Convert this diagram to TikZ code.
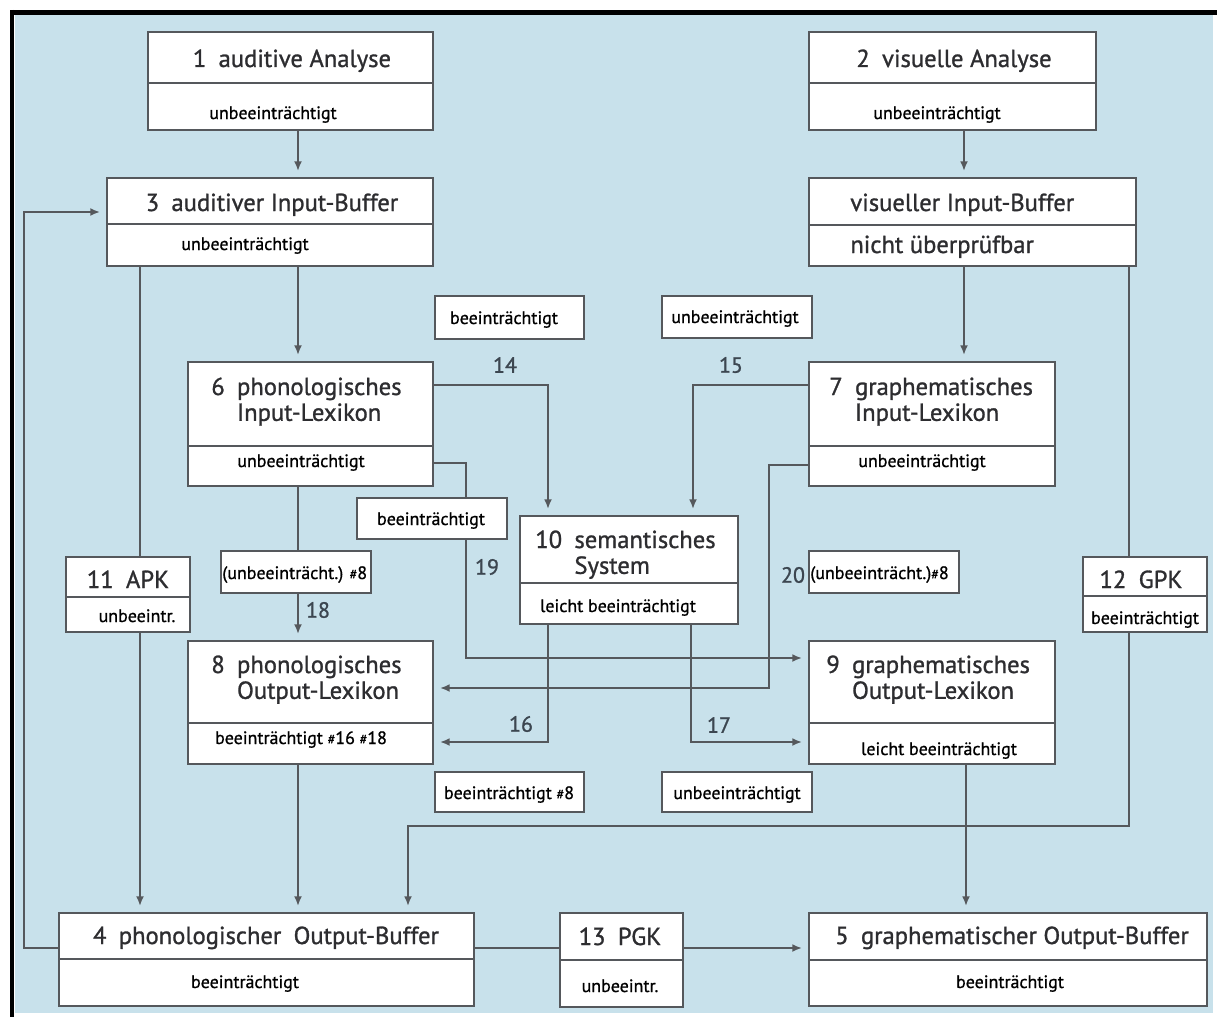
\documentclass[tikz,border=0pt]{standalone}
\usepackage{fontspec}
\setmainfont{PT Sans}
\newfontfamily\titelfont[FakeBold=1.1]{PT Sans}
\newfontfamily\statusfont[FakeBold=0.9]{PT Sans}
\usetikzlibrary{arrows.meta}
\usetikzlibrary{fit}

\definecolor{grund}{RGB}{200,225,235}
\definecolor{rahmen}{RGB}{85,88,92}
\definecolor{schrift}{RGB}{45,45,48}
\definecolor{ziffer}{RGB}{60,70,80}

\tikzset{
  modul/.style={draw=rahmen, line width=1pt, fill=white, inner sep=0pt},
  zettel/.style={draw=rahmen, line width=1pt, fill=white, inner sep=0pt},
  titel/.style={font=\titelfont\fontsize{14}{14.7}\selectfont, text=schrift, inner sep=0pt, anchor=base},
  status/.style={font=\statusfont\fontsize{10.2}{12}\selectfont, text=black, inner sep=0pt, anchor=base},
  nummer/.style={font=\titelfont\fontsize{12.5}{14}\selectfont, text=ziffer, inner sep=0pt},
  linie/.style={draw=rahmen, line width=1pt},
  pfeil/.style={linie, -{Latex[length=5.5pt,width=4.5pt]}, shorten >=3.5pt},
}

% box with a divider line: name, x1, y1, x2, y2, y of divider
\newcommand{\modul}[6]{%
  \node[modul, fit={(#2,#3) (#4,#5)}] (#1) {};
  \draw[linie] (#2,#6) -- (#4,#6);}
% two-line heading with hanging indent
\newcommand{\zweizeilig}[3]{#1\enspace\begin{tabular}[t]{@{}l@{}}#2\\#3\end{tabular}}
\newcommand{\nr}[1]{{\fontsize{8}{9}\selectfont\#}#1}

\begin{document}
\begin{tikzpicture}[x=0.02cm, y=-0.02cm]
\useasboundingbox (0,0) rectangle (1217,1017);
\fill[white] (0,0) rectangle (1217,1017);
\fill[grund] (15,15) rectangle (1213,1013);
\draw[line width=2.8pt] (12,12.5) -- (1217,12.5);
\draw[line width=2.8pt] (12,10) -- (12,1017);

% modules
\modul{b1}{148}{32}{433}{130}{83}
\modul{b2}{809}{32}{1096}{130}{83}
\modul{b3}{107}{178}{433}{266}{224}
\modul{bV}{809}{178}{1136}{266}{225}
\modul{b6}{188}{362}{433}{486}{446}
\modul{b7}{809}{362}{1055}{486}{446}
\modul{b10}{520}{516}{738}{624}{583}
\modul{b11}{66}{557}{190}{632}{597}
\modul{b12}{1083}{557}{1207}{632}{596}
\modul{b8}{188}{641}{433}{764}{723}
\modul{b9}{809}{641}{1055}{764}{723}
\modul{b4}{59}{913}{474}{1006}{959}
\modul{b13}{560}{913}{683}{1007}{960}
\modul{b5}{809}{913}{1207}{1006}{960}

\node[titel] (b1-t) at (292,67) {1\enspace auditive Analyse};
\node[titel] (b2-t) at (954,67) {2\enspace visuelle Analyse};
\node[titel] (b3-t) at (272,211) {3\enspace auditiver Input-Buffer};
\node[titel, anchor=base west] (bV-t) at (850,211) {visueller Input-Buffer};
\node[titel, anchor=base west] (bV-s) at (850,253) {nicht überprüfbar};
\node[titel, anchor=base west] (b6-t) at (211,395) {\zweizeilig{6}{phonologisches}{Input-Lexikon}};
\node[titel, anchor=base west] (b7-t) at (829,395) {\zweizeilig{7}{graphematisches}{Input-Lexikon}};
\node[titel, anchor=base west] (b10-t) at (535,548) {\zweizeilig{10}{semantisches}{System}};
\node[titel, anchor=base west] (b8-t) at (211,673) {\zweizeilig{8}{phonologisches}{Output-Lexikon}};
\node[titel, anchor=base west] (b9-t) at (826,673) {\zweizeilig{9}{graphematisches}{Output-Lexikon}};
\node[titel] (b11-t) at (128,588) {11\enspace APK};
\node[titel] (b12-t) at (1141,588) {12\enspace GPK};
\node[titel] (b4-t) at (266,944) {4\enspace phonologischer\enspace Output-Buffer};
\node[titel] (b13-t) at (620,945) {13\enspace PGK};
\node[titel] (b5-t) at (1012,944) {5\enspace graphematischer Output-Buffer};

\node[status] (b1-s) at (273,119) {unbeeinträchtigt};
\node[status] (b2-s) at (937,119) {unbeeinträchtigt};
\node[status] (b3-s) at (245,250) {unbeeinträchtigt};
\node[status] (b6-s) at (301,467) {unbeeinträchtigt};
\node[status] (b7-s) at (922,467) {unbeeinträchtigt};
\node[status] (b10-s) at (618,612) {leicht beeinträchtigt};
\node[status] (b11-s) at (137,622) {unbeeintr.};
\node[status] (b12-s) at (1145,624) {beeinträchtigt};
\node[status] (b8-s) at (301,744) {beeinträchtigt \nr{16} \nr{18}};
\node[status] (b9-s) at (939,755) {leicht beeinträchtigt};
\node[status] (b4-s) at (245,988) {beeinträchtigt};
\node[status] (b13-s) at (620,992) {unbeeintr.};
\node[status] (b5-s) at (1010,988) {beeinträchtigt};

% corner points of the routes
\coordinate (lA) at (298,0);
\coordinate (lV) at (964,0);
\coordinate (lAPK) at (140,0);
\coordinate (lGPK) at (1129,0);
\coordinate (l95) at (966,0);
\coordinate (rB) at (0,948);
\coordinate (kF1) at (24,948);
\coordinate (kF2) at (24,212);
\coordinate (k12) at (1129,826);
\coordinate (k4) at (408,826);
\coordinate (k14) at (548,385);
\coordinate (k15) at (693,385);
\coordinate (k19a) at (466,463);
\coordinate (k19b) at (466,658);
\coordinate (k20a) at (769,465);
\coordinate (k20b) at (769,688);
\coordinate (k16) at (548,742);
\coordinate (k17) at (691,742);

% connections
\draw[pfeil] (b1.south -| lA) -- (b3.north -| lA);
\draw[pfeil] (b2.south -| lV) -- (bV.north -| lV);
\draw[pfeil] (b3.south -| lA) -- (b6.north -| lA);
\draw[pfeil] (bV.south -| lV) -- (b7.north -| lV);
\draw[linie] (b3.south -| lAPK) -- (b11.north -| lAPK);
\draw[pfeil] (b11.south -| lAPK) -- (b4.north -| lAPK);
\draw[linie] (bV.south -| lGPK) -- (b12.north -| lGPK);
\draw[pfeil] (b12.south -| k12) -- (k12) -- (k4) -- (b4.north -| k4);
\draw[pfeil] (b6.south -| lA) -- (b8.north -| lA);
\draw[pfeil] (b8.south -| lA) -- (b4.north -| lA);
\draw[pfeil] (b9.south -| l95) -- (b5.north -| l95);
\draw[linie] (b4.east |- rB) -- (b13.west |- rB);
\draw[pfeil] (b13.east |- rB) -- (b5.west |- rB);
\draw[pfeil] (b4.west |- kF1) -- (kF1) -- (kF2) -- (b3.west |- kF2);
\draw[pfeil] (b6.east |- k14) -- (k14) -- (b10.north -| k14);
\draw[pfeil] (b7.west |- k15) -- (k15) -- (b10.north -| k15);
\draw[pfeil] (b6.east |- k19a) -- (k19a) -- (k19b) -- (b9.west |- k19b);
\draw[pfeil] (b7.west |- k20a) -- (k20a) -- (k20b) -- (b8.east |- k20b);
\draw[pfeil] (b10.south -| k16) -- (k16) -- (b8.east |- k16);
\draw[pfeil] (b10.south -| k17) -- (k17) -- (b9.west |- k17);

% route states
\node[zettel, fit={(435,296) (584,339)}] (z14) {};
\node[zettel, fit={(662,296) (812,338)}] (z15) {};
\node[zettel, fit={(357,498) (507,539)}] (z19) {};
\node[zettel, fit={(221,551) (371,593)}] (z18) {};
\node[zettel, fit={(809,551) (959,593)}] (z20) {};
\node[zettel, fit={(435,772) (584,812)}] (z16) {};
\node[zettel, fit={(662,772) (812,812)}] (z17) {};
\node[status] (z14-s) at (504,324) {beeinträchtigt};
\node[status] (z15-s) at (735,323) {unbeeinträchtigt};
\node[status] (z19-s) at (431,525) {beeinträchtigt};
\node[status, anchor=base west] (z18-s) at (222,579) {(unbeeinträcht.) \nr{8}};
\node[status, anchor=base west] (z20-s) at (810,579) {(unbeeinträcht.)\nr{8}};
\node[status] (z16-s) at (509,799) {beeinträchtigt \nr{8}};
\node[status] (z17-s) at (737,799) {unbeeinträchtigt};

\node[nummer] (n14) at (505,365) {14};
\node[nummer] (n15) at (731,365) {15};
\node[nummer] (n19) at (487,567) {19};
\node[nummer] (n18) at (318,610) {18};
\node[nummer] (n20) at (793,575) {20};
\node[nummer] (n16) at (521,724) {16};
\node[nummer] (n17) at (719,725) {17};
\end{tikzpicture}
\end{document}
